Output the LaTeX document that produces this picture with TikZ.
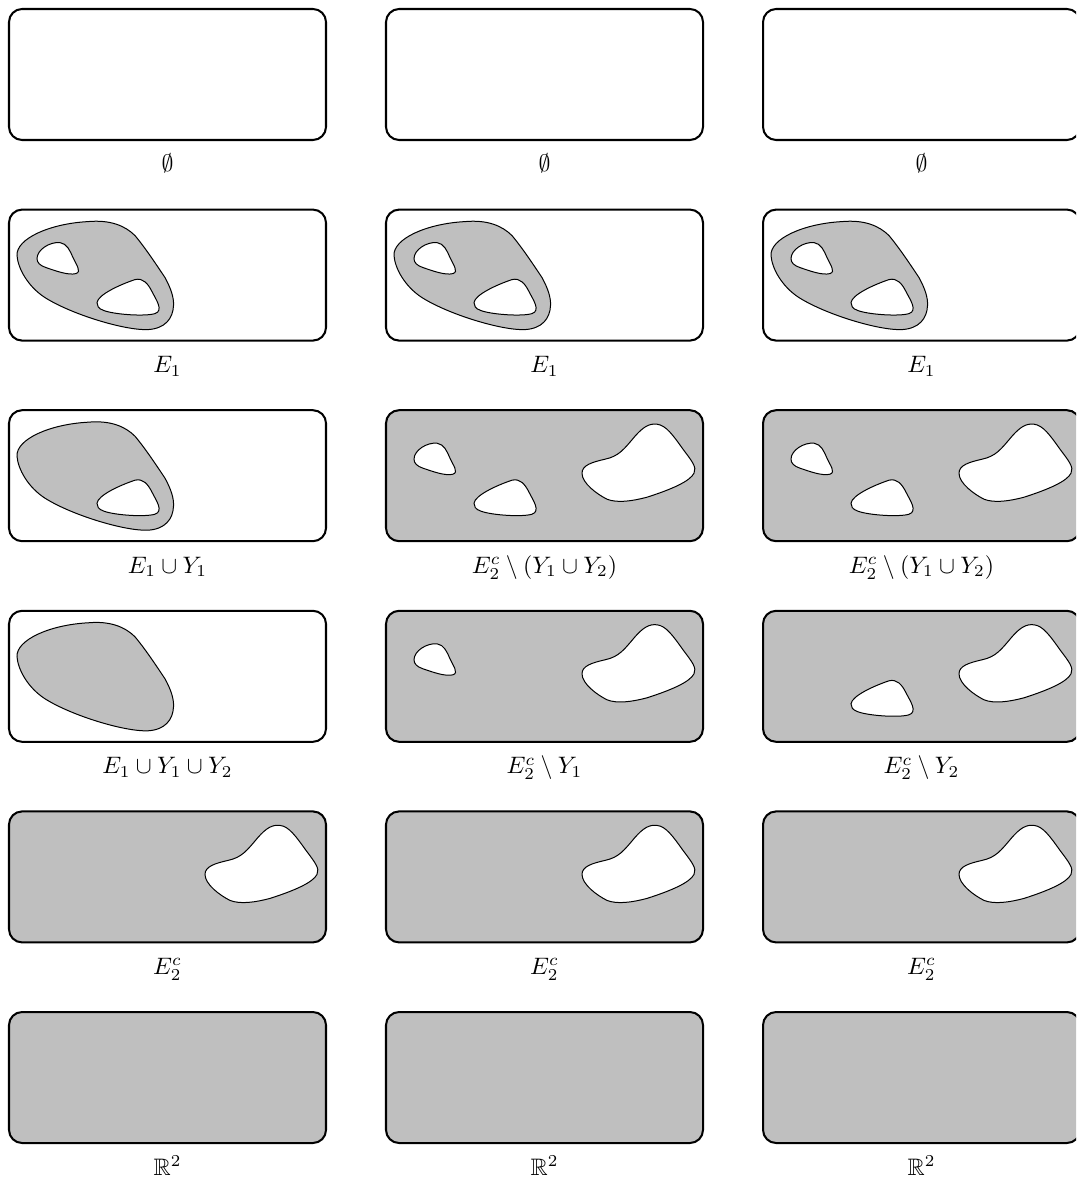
\documentclass[tikz,border=0pt]{standalone}
\usepackage{amsmath,amssymb}
\tikzset{
  boxline/.style={line width=0.85pt, rounded corners=5.5pt},
  blobline/.style={line width=0.42pt},
  setlabel/.style={anchor=base, inner sep=0pt},
}
\newcommand\BigBlob[1]{\path[#1] (17,55) .. controls (16,38) and (50,23) .. (88,21)
 .. controls (110,19) and (125,25) .. (135,35)
 .. controls (145,47) and (155,62) .. (165,77)
 .. controls (171,88) and (174,97) .. (173.5,105)
 .. controls (173,118) and (165,128) .. (148,129)
 .. controls (125,130) and (72,114) .. (45,97)
 .. controls (28,86) and (18,68) .. (17,55) -- cycle;}
\newcommand\HoleA[1]{\path[#1] (37,58) .. controls (37,49) and (50,41) .. (60,42)
 .. controls (67,43) and (70,50) .. (73,57)
 .. controls (76,64) and (82,71) .. (76,73)
 .. controls (68,75) and (55,70) .. (46,67)
 .. controls (40,65) and (37,62) .. (37,58) -- cycle;}
\newcommand\HoleB[1]{\path[#1] (97,102) .. controls (98,94) and (120,84) .. (135,79)
 .. controls (143,77) and (148,83) .. (152,91)
 .. controls (156,99) and (164,110) .. (155,113)
 .. controls (145,116) and (115,114) .. (104,110)
 .. controls (98,108) and (97,105) .. (97,102) -- cycle;}
\newcommand\HoleC[1]{\path[#1] (205,72) .. controls (205,64) and (215,61) .. (228,58)
 .. controls (242,55) and (247,48) .. (258,35)
 .. controls (266,26) and (272,22) .. (280,23)
 .. controls (289,24) and (296,34) .. (306,48)
 .. controls (315,60) and (320,66) .. (317,72)
 .. controls (313,80) and (295,88) .. (270,96)
 .. controls (255,100) and (240,102) .. (230,98)
 .. controls (220,93) and (205,82) .. (205,72) -- cycle;}
\newcommand\CellBox[1]{\path[boxline,#1] (9,9) rectangle (326,140);}
\begin{document}
\begin{tikzpicture}[x=0.42pt,y=-0.42pt]
\useasboundingbox (0,0) rectangle (1076,1182);
\clip (0,0) rectangle (1076,1182);
% ---------- row 1: empty
\foreach \c/\n in {0/a,1/b,2/c}{
  \begin{scope}[shift={(\c*377,0)}]
    \CellBox{draw}
    \node[setlabel] (l1\n) at (167.5,172) {$\emptyset$};
  \end{scope}
}
% ---------- row 2: E1
\foreach \c/\n in {0/a,1/b,2/c}{
  \begin{scope}[shift={(\c*377,200.6)}]
    \BigBlob{fill=lightgray,draw,blobline}
    \HoleA{fill=white,draw,blobline}
    \HoleB{fill=white,draw,blobline}
    \CellBox{draw}
    \node[setlabel] (l2\n) at (167.5,172) {$E_1$};
  \end{scope}
}
% ---------- row 3
\begin{scope}[shift={(0,401.2)}]
  \BigBlob{fill=lightgray,draw,blobline}
  \HoleB{fill=white,draw,blobline}
  \CellBox{draw}
  \node[setlabel] (l3a) at (167.5,172) {$E_1\cup Y_1$};
\end{scope}
\foreach \c/\n in {1/b,2/c}{
  \begin{scope}[shift={(\c*377,401.2)}]
    \CellBox{fill=lightgray}
    \HoleA{fill=white,draw,blobline}
    \HoleB{fill=white,draw,blobline}
    \HoleC{fill=white,draw,blobline}
    \CellBox{draw}
    \node[setlabel] (l3\n) at (167.5,172) {$E_2^c\setminus(Y_1\cup Y_2)$};
  \end{scope}
}
% ---------- row 4
\begin{scope}[shift={(0,601.8)}]
  \BigBlob{fill=lightgray,draw,blobline}
  \CellBox{draw}
  \node[setlabel] (l4a) at (167.5,172) {$E_1\cup Y_1\cup Y_2$};
\end{scope}
\begin{scope}[shift={(377,601.8)}]
  \CellBox{fill=lightgray}
  \HoleA{fill=white,draw,blobline}
  \HoleC{fill=white,draw,blobline}
  \CellBox{draw}
  \node[setlabel] (l4b) at (167.5,172) {$E_2^c\setminus Y_1$};
\end{scope}
\begin{scope}[shift={(754,601.8)}]
  \CellBox{fill=lightgray}
  \HoleB{fill=white,draw,blobline}
  \HoleC{fill=white,draw,blobline}
  \CellBox{draw}
  \node[setlabel] (l4c) at (167.5,172) {$E_2^c\setminus Y_2$};
\end{scope}
% ---------- row 5
\foreach \c/\n in {0/a,1/b,2/c}{
  \begin{scope}[shift={(\c*377,802.4)}]
    \CellBox{fill=lightgray}
    \HoleC{fill=white,draw,blobline}
    \CellBox{draw}
    \node[setlabel] (l5\n) at (167.5,172) {$E_2^c$};
  \end{scope}
}
% ---------- row 6
\foreach \c/\n in {0/a,1/b,2/c}{
  \begin{scope}[shift={(\c*377,1003)}]
    \CellBox{fill=lightgray,draw}
    \node[setlabel] (l6\n) at (167.5,172) {$\mathbb{R}^2$};
  \end{scope}
}
\end{tikzpicture}
\end{document}
